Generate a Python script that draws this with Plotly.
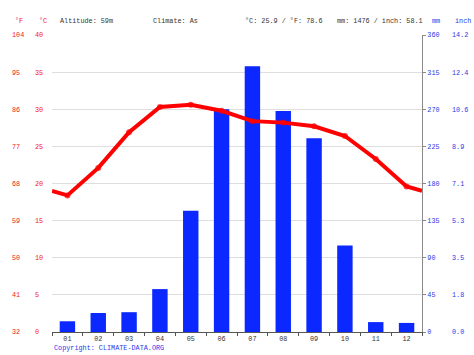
import plotly.graph_objects as go

# ---- data ----
months = [1, 2, 3, 4, 5, 6, 7, 8, 9, 10, 11, 12]
month_labels = ["01", "02", "03", "04", "05", "06", "07", "08", "09", "10", "11", "12"]
temp_c = [18.4, 22.1, 26.9, 30.3, 30.6, 29.8, 28.4, 28.2, 27.7, 26.4, 23.3, 19.6]
precip_mm = [13, 23, 24, 52, 147, 270, 322, 268, 235, 105, 12, 11]
c_ticks = [0, 5, 10, 15, 20, 25, 30, 35, 40]
mm_ticks = [0, 45, 90, 135, 180, 225, 270, 315, 360]
f_labels = [str(round(c * 9 / 5 + 32)) for c in c_ticks]
inch_labels = [f"{m / 25.4:.1f}" for m in mm_ticks]
header_info = ["Altitude: 59m", "Climate: As", "°C: 25.9 / °F: 78.6", "mm: 1476 / inch: 58.1"]

W, H = 474, 355
L, R, T, B = 52, 422, 35, 332
RED = "#f01818"
BLUE = "#2a38e8"
BAR = "#0a28ff"
MONO = "Liberation Mono, DejaVu Sans Mono, monospace"
FS = 6.8

# wrap-around edge value (average of December and January)
edge = (temp_c[0] + temp_c[-1]) / 2
line_x = [months[0] - 0.5] + months + [months[-1] + 0.5]
line_y = [edge] + temp_c + [edge]
marker_sizes = [0] + [6] * len(months) + [0]

fig = go.Figure()
fig.add_trace(go.Bar(x=months, y=precip_mm, width=0.5, marker_color=BAR,
                     marker_line_width=0, yaxis="y", hoverinfo="skip"))
fig.add_trace(go.Scatter(x=line_x, y=line_y, mode="lines+markers",
                         line=dict(color="#ff0000", width=4),
                         marker=dict(color="#ff0000", size=marker_sizes,
                                     line=dict(width=0)),
                         yaxis="y2", hoverinfo="skip"))
for ax in ["y3", "y4"]:
    fig.add_trace(go.Scatter(x=[None], y=[None], yaxis=ax, showlegend=False, hoverinfo="skip"))

def px_x(p):
    return p / W

def px_y(p):
    return (B - p) / (B - T)

tick_font_red = dict(family=MONO, size=FS, color=RED)
tick_font_blue = dict(family=MONO, size=FS, color=BLUE)

fig.update_layout(
    width=W, height=H,
    margin=dict(l=0, r=0, t=T, b=H - B),
    paper_bgcolor="white", plot_bgcolor="white",
    showlegend=False,
    xaxis=dict(domain=[px_x(L), px_x(R)], range=[0.5, 12.5],
               tickvals=months, ticktext=month_labels, ticks="",
               tickfont=dict(family=MONO, size=FS, color="#333333"),
               showgrid=False, zeroline=False,
               showline=True, linecolor="#555555", linewidth=1,
               minor=dict(tick0=0.5, dtick=1, ticks="outside", ticklen=3,
                          tickcolor="#555555", showgrid=False)),
    yaxis=dict(range=[0, 360], tickvals=mm_ticks, ticktext=[str(m) for m in mm_ticks],
               side="right", anchor="x", showgrid=True, gridcolor="#dedede",
               zeroline=False, showline=True, linecolor="#8a8a8a", linewidth=1,
               ticks="outside", ticklen=3, tickcolor="#8a8a8a",
               tickfont=tick_font_blue),
    yaxis2=dict(range=[0, 40], overlaying="y", anchor="free", side="right",
                position=px_x(34), tickvals=c_ticks, ticktext=[str(c) for c in c_ticks],
                showgrid=False, zeroline=False, showline=False, ticks="",
                tickfont=tick_font_red),
    yaxis3=dict(range=[0, 40], overlaying="y", anchor="free", side="right",
                position=px_x(11), tickvals=c_ticks, ticktext=f_labels,
                showgrid=False, zeroline=False, showline=False, ticks="",
                tickfont=tick_font_red),
    yaxis4=dict(range=[0, 360], overlaying="y", anchor="free", side="right",
                position=px_x(451), tickvals=mm_ticks, ticktext=inch_labels,
                showgrid=False, zeroline=False, showline=False, ticks="",
                tickfont=tick_font_blue),
)

hy = px_y(21)
ann = [
    dict(text="°F", x=px_x(13), color=RED),
    dict(text="°C", x=px_x(37), color=RED),
    dict(text=header_info[0], x=px_x(58), color="#333333"),
    dict(text=header_info[1], x=px_x(151), color="#333333"),
    dict(text=header_info[2], x=px_x(243), color="#333333"),
    dict(text=header_info[3], x=px_x(335), color="#333333"),
    dict(text="mm", x=px_x(430), color=BLUE),
    dict(text="inch", x=px_x(453), color=BLUE),
]
for a in ann:
    fig.add_annotation(text=a["text"], x=a["x"], y=hy, xref="paper", yref="paper",
                       xanchor="left", yanchor="middle", showarrow=False,
                       font=dict(family=MONO, size=FS, color=a["color"]))
fig.add_annotation(text="Copyright: CLIMATE-DATA.ORG", x=px_x(52), y=px_y(348),
                   xref="paper", yref="paper", xanchor="left", yanchor="middle",
                   showarrow=False, font=dict(family=MONO, size=FS, color=BLUE))

fig.write_html("out.html")
